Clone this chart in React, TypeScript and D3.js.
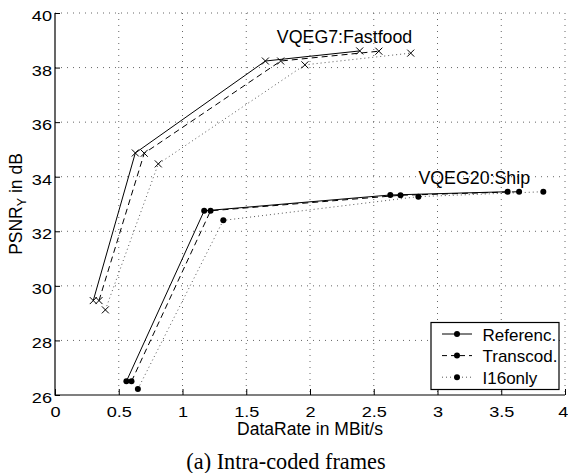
import React, { useEffect, useRef } from "react";
import * as d3 from "d3";

// data rates in MBit/s and PSNR_Y in dB
const ffRefRate = [0.30, 0.63, 1.65, 2.39];
const ffRefPsnr = [29.46, 34.87, 38.24, 38.61];
const ffTransRate = [0.345, 0.70, 1.77, 2.54];
const ffTransPsnr = [29.46, 34.86, 38.24, 38.6];
const ffI16Rate = [0.395, 0.81, 1.96, 2.79];
const ffI16Psnr = [29.12, 34.47, 38.1, 38.53];

const shipRefRate = [0.56, 1.17, 2.63, 3.55];
const shipRefPsnr = [26.5, 32.75, 33.33, 33.45];
const shipTransRate = [0.60, 1.22, 2.71, 3.64];
const shipTransPsnr = [26.5, 32.75, 33.32, 33.45];
const shipI16Rate = [0.65, 1.32, 2.85, 3.83];
const shipI16Psnr = [26.22, 32.4, 33.27, 33.45];

const xTicks = [0, 0.5, 1, 1.5, 2, 2.5, 3, 3.5, 4];
const yTicks = [26, 28, 30, 32, 34, 36, 38, 40];
const legendNames = ["Referenc.", "Transcod.", "I16only"];

const SANS = "Helvetica, Arial, 'Liberation Sans', sans-serif";

export default function App() {
  const ref = useRef<SVGSVGElement>(null);

  useEffect(() => {
    const svg = d3.select(ref.current);
    svg.selectAll("*").remove();

    const left = 55, right = 565, top = 13, bottom = 395;
    const x = d3.scaleLinear().domain([0, 4]).range([left, right]);
    const y = d3.scaleLinear().domain([26, 40]).range([bottom, top]);

    // grid
    const grid = svg.append("g");
    xTicks.slice(1).forEach((t) => {
      grid.append("line").attr("x1", x(t)).attr("x2", x(t)).attr("y1", top).attr("y2", bottom)
        .attr("stroke", "#666").attr("stroke-width", 1).attr("stroke-dasharray", "1,5");
    });
    yTicks.slice(1).forEach((t) => {
      grid.append("line").attr("x1", left).attr("x2", right).attr("y1", y(t)).attr("y2", y(t))
        .attr("stroke", "#666").attr("stroke-width", 1).attr("stroke-dasharray", "1,5");
    });

    // axes
    const gx = svg.append("g").attr("transform", `translate(0,${bottom})`)
      .call(d3.axisBottom(x).tickValues(xTicks).tickSize(-6).tickPadding(0).tickFormat(d3.format("")));
    gx.select(".domain").remove();
    gx.selectAll(".tick line").attr("stroke", "#000");
    gx.selectAll(".tick text")
      .attr("y", 22).attr("dy", null)
      .attr("font-family", SANS).attr("font-size", 14.5).attr("fill", "#000")
      .attr("transform", "scale(1.25,1)");
    // last label sits at the right edge, keep it inside the picture
    gx.selectAll<SVGTextElement, number>(".tick text")
      .filter((d) => d === 4)
      .attr("text-anchor", "end").attr("x", 2.2);

    const gy = svg.append("g").attr("transform", `translate(${left},0)`)
      .call(d3.axisLeft(y).tickValues(yTicks).tickSize(-5).tickPadding(0));
    gy.select(".domain").remove();
    gy.selectAll(".tick line").attr("stroke", "#000");
    gy.selectAll(".tick text")
      .attr("x", -2.4).attr("dy", 7.5)
      .attr("font-family", SANS).attr("font-size", 14.5).attr("fill", "#000")
      .attr("transform", "scale(1.25,1)");

    svg.append("line").attr("x1", left).attr("x2", left).attr("y1", top).attr("y2", bottom + 0.5)
      .attr("stroke", "#000").attr("stroke-width", 1.2);
    svg.append("line").attr("x1", left).attr("x2", right).attr("y1", bottom).attr("y2", bottom)
      .attr("stroke", "#000").attr("stroke-width", 1.2);

    // series
    const styles = [
      { dash: null, color: "#000" },
      { dash: "6,4", color: "#000" },
      { dash: "1,3", color: "#555" },
    ];
    const line = d3.line<[number, number]>().x((d) => x(d[0])).y((d) => y(d[1]));

    const drawSeries = (rate: number[], psnr: number[], s: number, marker: string) => {
      const pts = rate.map((r, i) => [r, psnr[i]] as [number, number]);
      svg.append("path").attr("d", line(pts)).attr("fill", "none")
        .attr("stroke", styles[s].color).attr("stroke-width", 1)
        .attr("stroke-dasharray", styles[s].dash);
      const g = svg.append("g");
      pts.forEach((p) => {
        if (marker === "x") {
          const cx = x(p[0]), cy = y(p[1]), h = 3.5;
          g.append("path")
            .attr("d", `M${cx - h},${cy - h}L${cx + h},${cy + h}M${cx - h},${cy + h}L${cx + h},${cy - h}`)
            .attr("stroke", "#000").attr("stroke-width", 1);
        } else {
          g.append("circle").attr("cx", x(p[0])).attr("cy", y(p[1])).attr("r", 3).attr("fill", "#000");
        }
      });
    };

    drawSeries(ffI16Rate, ffI16Psnr, 2, "x");
    drawSeries(ffTransRate, ffTransPsnr, 1, "x");
    drawSeries(ffRefRate, ffRefPsnr, 0, "x");
    drawSeries(shipI16Rate, shipI16Psnr, 2, "o");
    drawSeries(shipTransRate, shipTransPsnr, 1, "o");
    drawSeries(shipRefRate, shipRefPsnr, 0, "o");

    // annotations
    svg.append("text").attr("x", x(1.74)).attr("y", y(38.9)).text("VQEG7:Fastfood")
      .attr("font-family", SANS).attr("font-size", 17.8).attr("fill", "#000");
    svg.append("text").attr("x", x(2.85)).attr("y", y(33.75)).text("VQEG20:Ship")
      .attr("font-family", SANS).attr("font-size", 17.8).attr("fill", "#000");

    // legend
    const lg = svg.append("g");
    lg.append("rect").attr("x", 431).attr("y", 322.5).attr("width", 128).attr("height", 67)
      .attr("fill", "#fff").attr("stroke", "#000").attr("stroke-width", 1.2);
    legendNames.forEach((name, i) => {
      const cy = 334 + i * 21.6;
      lg.append("line").attr("x1", 442).attr("x2", 472).attr("y1", cy).attr("y2", cy)
        .attr("stroke", styles[i].color).attr("stroke-width", 1)
        .attr("stroke-dasharray", i === 1 ? "5,4" : styles[i].dash);
      lg.append("circle").attr("cx", 457).attr("cy", cy).attr("r", 3).attr("fill", "#000");
      lg.append("text").attr("x", 482.5).attr("y", cy + 6.5).text(name)
        .attr("font-family", SANS).attr("font-size", 17).attr("fill", "#000");
    });

    // axis labels
    svg.append("text").attr("x", (left + right) / 2).attr("y", 435).attr("text-anchor", "middle")
      .attr("font-family", SANS).attr("font-size", 17.5).attr("fill", "#000")
      .text("DataRate in MBit/s");

    const yl = svg.append("text").attr("transform", `translate(21.5,${(top + bottom) / 2}) rotate(-90)`)
      .attr("text-anchor", "middle").attr("font-family", SANS).attr("font-size", 17.5).attr("fill", "#000");
    yl.append("tspan").text("PSNR");
    yl.append("tspan").attr("dy", 4).attr("font-size", 12.5).text("Y");
    yl.append("tspan").attr("dy", -4).text(" in dB");

    svg.append("text").attr("x", 286).attr("y", 469).attr("text-anchor", "middle")
      .attr("font-family", "'Times New Roman', 'Liberation Serif', serif").attr("font-size", 22.3)
      .attr("fill", "#000").text("(a) Intra-coded frames");
  }, []);

  return (
    <svg ref={ref} width={568} height={473}
      style={{ position: "absolute", left: 0, top: 0, background: "#fff" }} />
  );
}
